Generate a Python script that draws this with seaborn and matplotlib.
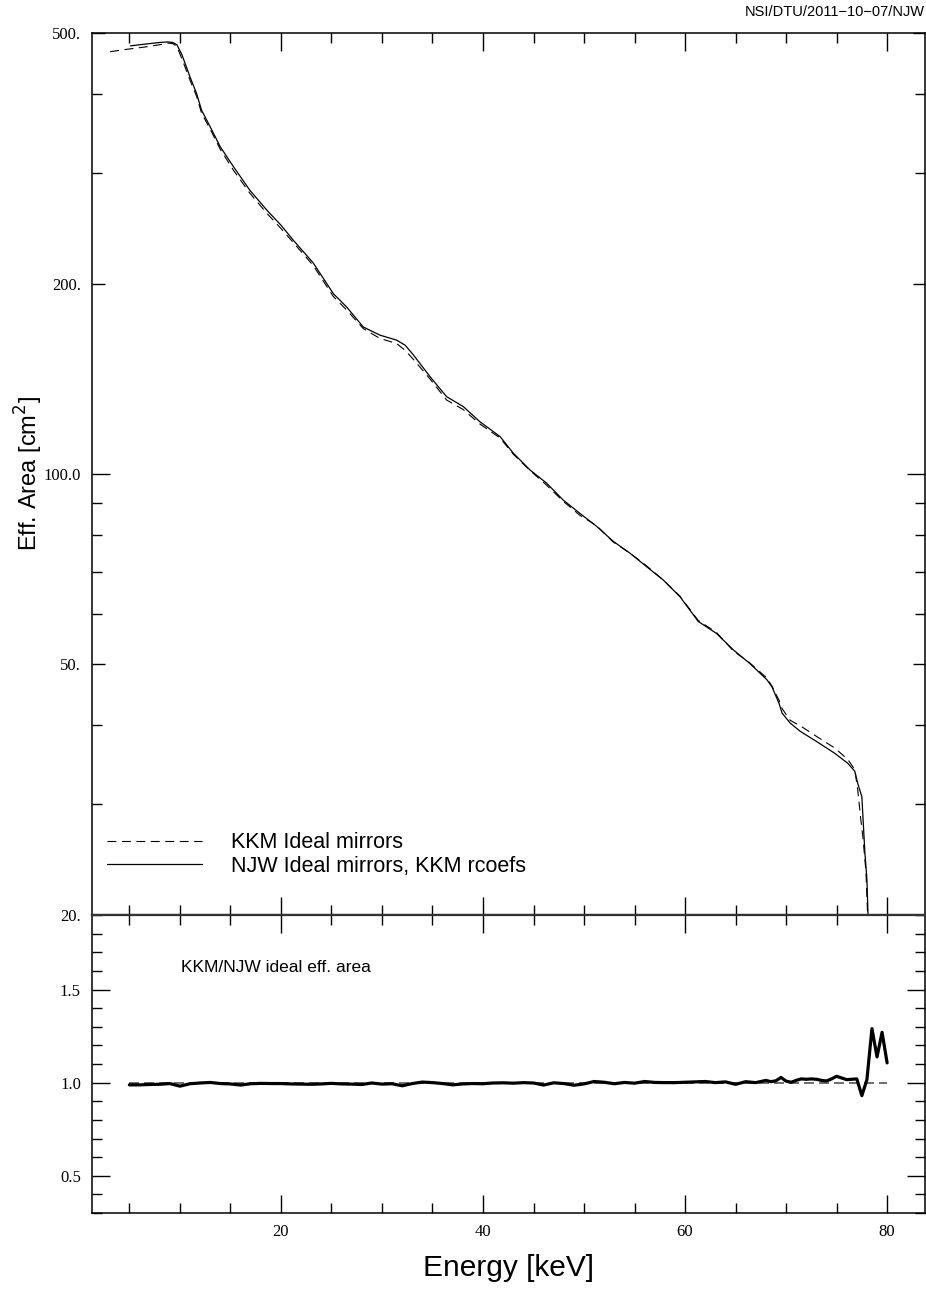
import matplotlib
matplotlib.use("Agg")
import matplotlib.pyplot as plt
from matplotlib.ticker import FixedLocator, FixedFormatter, MultipleLocator, NullFormatter
import seaborn as sns
import pandas as pd

# NJW ideal mirrors with KKM reflection coefficients: energy [keV] / effective area [cm^2]
njw_energy = [5.1, 6.0, 7.0, 8.0, 8.8, 9.3, 9.7, 10.2, 11.0, 11.65, 12.15, 13.0, 14.0, 15.3,
              16.9, 18.6, 20.0, 21.2, 23.2, 25.2, 26.5, 28.15, 29.8, 31.45, 32.3, 33.1, 34.75,
              36.4, 38.05, 39.7, 41.7, 43.0, 44.65, 46.3, 47.95, 49.6, 51.25, 52.9, 54.55,
              56.2, 57.85, 59.5, 61.3, 63.1, 64.8, 66.4, 68.1, 68.6, 69.3, 69.6, 70.4, 71.4,
              73.1, 74.8, 76.1, 76.8, 77.1, 77.5, 77.8, 78.0, 78.2, 78.5]
njw_area = [477, 479, 481, 483, 484, 483, 479, 462, 426, 401, 377, 355, 330, 307,
            282, 262, 248, 235, 216, 193, 184, 171, 166, 163, 160, 154.5, 142.7,
            132.6, 127.9, 121, 114.6, 107.9, 101.5, 96.7, 90.9, 86.6, 82.6, 78.2, 74.9,
            71.3, 67.9, 63.9, 58.4, 55.9, 52.6, 50.1, 47.2, 46.0, 43.3, 41.8, 40.3, 39.1,
            37.6, 36.1, 34.8, 33.8, 32.3, 30.8, 25.1, 22.8, 18.0, 12.0]

# KKM ideal mirrors
kkm_energy = [3.1, 4.7, 6.5, 8.0, 8.8, 9.3, 9.7, 10.2, 11.0, 11.65, 12.15, 13.0, 14.0, 15.3,
              16.9, 18.6, 20.0, 21.2, 23.2, 25.2, 26.5, 28.15, 29.8, 31.45, 32.3, 33.1, 34.75,
              36.4, 38.05, 39.7, 41.7, 43.0, 44.65, 46.3, 47.95, 49.6, 51.25, 52.9, 54.55,
              56.2, 57.85, 59.5, 61.3, 63.1, 64.8, 66.4, 68.1, 68.6, 69.3, 69.6, 70.4, 71.4,
              73.1, 74.8, 76.1, 76.8, 77.1, 77.4, 77.6, 77.9, 78.1, 78.4]
kkm_area = [467, 471, 475, 479, 482, 481, 476, 455, 421, 397, 373, 352, 327, 303,
            279, 259, 245, 233, 214, 191, 182, 170, 164, 161, 157, 152, 141.5,
            131, 126.5, 120, 114, 107.5, 101.3, 96, 90.5, 86, 82.8, 78, 74.9,
            71.5, 67.9, 64, 58.6, 56.1, 52.4, 50.2, 47.5, 46.1, 43.8, 42.5, 40.7, 39.9,
            38.3, 36.8, 35.3, 34.0, 31.5, 28.3, 26.6, 23.5, 19.5, 12.0]

# KKM/NJW ratio
ratio_energy = list(range(5, 68)) + [68.0, 68.5, 69.0, 69.5, 70.0, 70.5, 71.0, 71.5, 72.0,
                                     72.5, 73.0, 73.5, 74.0, 74.5, 75.0, 75.5, 76.0, 76.5,
                                     77.0, 77.5, 78.0, 78.5, 79.0, 79.5, 80.0]
ratio_value = [0.988, 0.988, 0.990, 0.991, 0.995, 0.981, 0.994, 0.998, 1.001, 0.995,
               0.993, 0.987, 0.994, 0.996, 0.995, 0.995, 0.993, 0.992, 0.991, 0.993,
               0.996, 0.993, 0.992, 0.990, 0.998, 0.992, 0.994, 0.983, 0.995, 1.003,
               1.000, 0.995, 0.988, 0.993, 0.995, 0.994, 0.998, 0.999, 0.997, 1.000,
               0.998, 0.987, 0.999, 0.995, 0.986, 0.993, 1.006, 1.002, 0.994, 1.001,
               0.997, 1.006, 1.001, 1.000, 1.000, 1.002, 1.004, 1.006, 1.000, 1.004,
               0.991, 1.005, 1.000,
               1.012, 1.005, 1.010, 1.028, 1.008, 1.002, 1.012, 1.020, 1.018,
               1.020, 1.018, 1.012, 1.009, 1.020, 1.034, 1.025, 1.016, 1.018,
               1.020, 0.930, 1.016, 1.290, 1.138, 1.270, 1.106]

ref_energy = [5.0, 80.0]
ref_value = [1.0, 1.0]

area_ticks = [20, 50, 100, 200, 500]
area_labels = ["20.", "50.", "100.0", "200.", "500."]
ratio_ticks = [0.5, 1.0, 1.5]
ratio_labels = ["0.5", "1.0", "1.5"]
energy_ticks = [20, 40, 60, 80]

sns.set_theme(style="ticks")
plt.rcParams["font.family"] = ["Liberation Sans", "DejaVu Sans"]
plt.rcParams["axes.linewidth"] = 1.1
for key in ("text.color", "axes.labelcolor", "xtick.color", "ytick.color", "axes.edgecolor"):
    plt.rcParams[key] = "black"

fig = plt.figure(figsize=(9.26, 12.92), dpi=100)
ax_top = fig.add_axes([92 / 926, 1 - 915 / 1292, 833 / 926, 882 / 1292])
ax_bot = fig.add_axes([92 / 926, 1 - 1213 / 1292, 833 / 926, 298 / 1292])

njw = pd.DataFrame({"energy": njw_energy, "area": njw_area})
kkm = pd.DataFrame({"energy": kkm_energy, "area": kkm_area})
rat = pd.DataFrame({"energy": ratio_energy, "ratio": ratio_value})

ax_top.set_yscale("log")
sns.lineplot(data=kkm, x="energy", y="area", ax=ax_top, color="black", lw=0.8,
             linestyle=(0, (8, 5)), sort=False, estimator=None, label="KKM Ideal mirrors")
sns.lineplot(data=njw, x="energy", y="area", ax=ax_top, color="black", lw=0.9,
             sort=False, estimator=None, label="NJW Ideal mirrors, KKM rcoefs")

xlim = (1.3, 83.75)
ax_top.set_xlim(*xlim)
ax_top.set_ylim(20, 500)
ax_top.yaxis.set_major_locator(FixedLocator(area_ticks))
ax_top.yaxis.set_major_formatter(FixedFormatter(area_labels))
ax_top.yaxis.set_minor_locator(FixedLocator([30, 40, 60, 70, 80, 90, 300, 400]))
ax_top.yaxis.set_minor_formatter(NullFormatter())
ax_top.xaxis.set_major_locator(FixedLocator(energy_ticks))
ax_top.xaxis.set_minor_locator(MultipleLocator(5))
ax_top.xaxis.set_major_formatter(NullFormatter())
ax_top.set_xlabel("")
ax_top.set_ylabel("Eff. Area [cm$^2$]", fontsize=17)

sns.lineplot(data=pd.DataFrame({"energy": ref_energy, "ratio": ref_value}), x="energy",
             y="ratio", ax=ax_bot, color="#555555", lw=1.2, linestyle=(0, (6, 3)),
             estimator=None)
sns.lineplot(data=rat, x="energy", y="ratio", ax=ax_bot, color="black", lw=2.3,
             sort=False, estimator=None)
ax_bot.set_xlim(*xlim)
ax_bot.set_ylim(0.3, 1.9)
ax_bot.yaxis.set_major_locator(FixedLocator(ratio_ticks))
ax_bot.yaxis.set_major_formatter(FixedFormatter(ratio_labels))
ax_bot.yaxis.set_minor_locator(MultipleLocator(0.1))
ax_bot.xaxis.set_major_locator(FixedLocator(energy_ticks))
ax_bot.xaxis.set_minor_locator(MultipleLocator(5))
ax_bot.set_ylabel("")
ax_bot.set_xlabel("Energy [keV]", fontsize=21.5, labelpad=10)

for ax in (ax_top, ax_bot):
    ax.tick_params(which="both", direction="in", top=True, right=True, color="black")
    ax.tick_params(which="major", length=13, width=1.0, pad=8)
    ax.tick_params(which="minor", length=7, width=1.0)
    for lab in ax.get_xticklabels() + ax.get_yticklabels():
        lab.set_fontfamily("Liberation Serif")
        lab.set_fontsize(12)
        lab.set_color("black")

# labelled non-decade ticks on the area axis are a little shorter than the decade one
for tick, val in zip(ax_top.yaxis.get_major_ticks(), area_ticks):
    if val != 100:
        tick.tick1line.set_markersize(9)
        tick.tick2line.set_markersize(9)

ax_top.spines["bottom"].set_color("#333333")
ax_top.spines["bottom"].set_linewidth(1.6)
ax_bot.spines["top"].set_color("#333333")
ax_bot.spines["top"].set_linewidth(1.6)
ax_top.yaxis.set_label_coords(-0.056, 0.5)

ax_top.legend(loc="center left", bbox_to_anchor=(0.018, 0.0686), frameon=False,
              fontsize=15.5, handlelength=4.4, handletextpad=1.34, borderpad=0,
              borderaxespad=0, labelspacing=0.12)

ax_bot.text(0.107, 0.8255, "KKM/NJW ideal eff. area", transform=ax_bot.transAxes,
            fontsize=12.5, ha="left", va="center")
fig.text(925 / 926, 1 - 12 / 1292, "NSI/DTU/2011\u221210\u221207/NJW", ha="right",
         va="center", fontsize=10.5)

fig.savefig("out.png", dpi=100)
